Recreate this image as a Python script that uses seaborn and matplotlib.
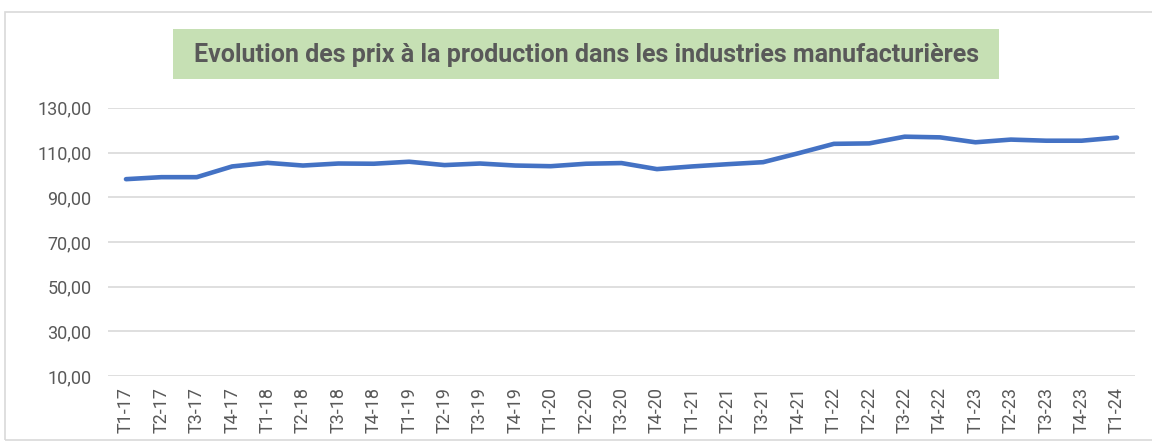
import pandas as pd
import seaborn as sns
import matplotlib.pyplot as plt
from matplotlib.patches import Rectangle

quarters = ["T1-17", "T2-17", "T3-17", "T4-17",
            "T1-18", "T2-18", "T3-18", "T4-18",
            "T1-19", "T2-19", "T3-19", "T4-19",
            "T1-20", "T2-20", "T3-20", "T4-20",
            "T1-21", "T2-21", "T3-21", "T4-21",
            "T1-22", "T2-22", "T3-22", "T4-22",
            "T1-23", "T2-23", "T3-23", "T4-23",
            "T1-24"]
prices = [98.1, 99.0, 99.0, 103.8,
          105.4, 104.2, 105.1, 105.0,
          105.9, 104.4, 105.1, 104.2,
          103.9, 105.0, 105.3, 102.6,
          103.8, 104.8, 105.7, 109.7,
          113.9, 114.1, 117.1, 116.8,
          114.6, 115.8, 115.3, 115.3,
          116.7]
y_ticks = [10, 30, 50, 70, 90, 110, 130]
title = "Evolution des prix à la production dans les industries manufacturières"

sns.set_style("white")
plt.rcParams["font.family"] = ["Roboto", "DejaVu Sans"]

df = pd.DataFrame({"pos": range(len(quarters)), "quarter": quarters, "price": prices})

fig = plt.figure(figsize=(11.52, 4.42), dpi=100)
ax = fig.add_axes([0.094, 0.149, 0.891, 0.607])

sns.lineplot(data=df, x="pos", y="price", ax=ax, color="#4472C4",
             linewidth=3.3, solid_capstyle="round")

ax.set_xlim(-0.5, len(quarters) - 0.5)
ax.set_ylim(10, 130)
ax.set_yticks(y_ticks)
ax.set_yticklabels([f"{v:.2f}".replace(".", ",") for v in y_ticks])
ax.set_xticks(df["pos"])
ax.set_xticklabels(quarters, rotation=90)
ax.tick_params(axis="both", length=0, colors="#595959", labelsize=13)
ax.tick_params(axis="y", pad=12)
ax.tick_params(axis="x", pad=8)
ax.set_xlabel("")
ax.set_ylabel("")
ax.grid(axis="y", color="#D9D9D9", linewidth=1.2)
ax.set_axisbelow(True)
for s in ax.spines.values():
    s.set_visible(False)

# outer chart border
fig.patches.append(Rectangle((0.004, 0.005), 1.2, 0.967, transform=fig.transFigure,
                             fill=False, edgecolor="#D9D9D9", linewidth=1.2))

# green title box
fig.patches.append(Rectangle((0.150, 0.821), 0.717, 0.113, transform=fig.transFigure,
                             facecolor="#C6E0B4", edgecolor="none"))
fig.text(0.5087, 0.876, title, ha="center", va="center", fontsize=18,
         fontweight="bold", color="#595959")

plt.savefig("out.png", dpi=100)
